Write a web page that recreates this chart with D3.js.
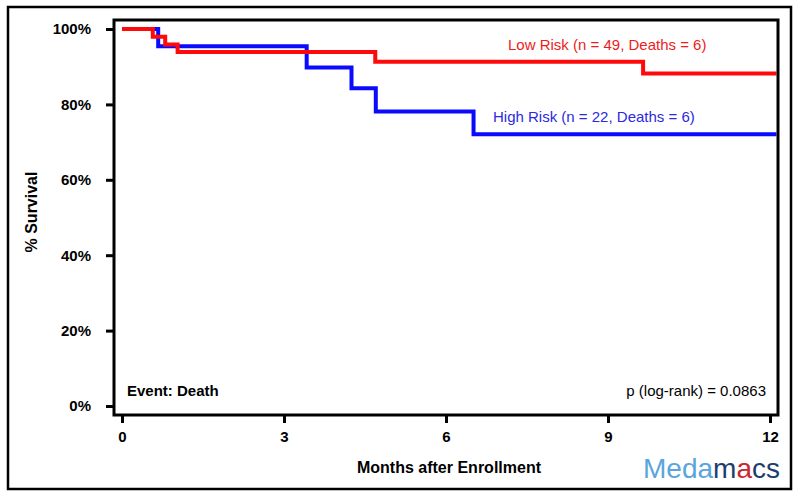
<!DOCTYPE html>
<html>
<head>
<meta charset="utf-8">
<script src="https://cdn.jsdelivr.net/npm/d3@7"></script>
<style>
  html, body { margin: 0; padding: 0; background: #fff; }
  svg { display: block; font-family: Arial, "Liberation Sans", sans-serif; }
</style>
</head>
<body>
<svg id="chart" width="800" height="498"></svg>
<script>
// ---- data ----
const lowTimes  = [0, 0.57, 0.80, 1.03, 4.69, 9.65, 12.12];
const lowSurv   = [100, 97.96, 95.92, 93.88, 91.3, 88.2, 88.2];
const highTimes = [0, 0.67, 3.42, 4.25, 4.70, 6.51, 12.12];
const highSurv  = [100, 95.45, 89.8, 84.3, 78.1, 72.1, 72.1];
const xTicks = [0, 3, 6, 9, 12];
const yTicks = [0, 20, 40, 60, 80, 100];
const seriesLabels = ["Low Risk (n = 49, Deaths = 6)", "High Risk (n = 22, Deaths = 6)"];
const eventLabel = "Event: Death";
const pLabel = "p (log-rank) = 0.0863";
const xTitle = "Months after Enrollment";
const yTitle = "% Survival";
const logoParts = ["Meda", "m", "a", "cs"];

const svg = d3.select("#chart");
const frame = {left: 114, right: 778, top: 20, bottom: 415};

const x = d3.scaleLinear().domain([0, 12]).range([122, 770]);
const y = d3.scaleLinear().domain([0, 100]).range([406, 29]);

// outer border
svg.append("rect").attr("x", 8).attr("y", 7).attr("width", 783).attr("height", 482)
  .attr("fill", "none").attr("stroke", "#000").attr("stroke-width", 2.5);

// clip for curves
svg.append("clipPath").attr("id", "clip").append("rect")
  .attr("x", frame.left).attr("y", frame.top)
  .attr("width", frame.right - frame.left).attr("height", frame.bottom - frame.top);

// curves
const line = d3.line().curve(d3.curveStepAfter).x(d => x(d[0])).y(d => y(d[1]));
const g = svg.append("g").attr("clip-path", "url(#clip)");
g.append("path").datum(highTimes.map((t, i) => [t, highSurv[i]]))
  .attr("d", line).attr("fill", "none").attr("stroke", "#0a0aff").attr("stroke-width", 4);
g.append("path").datum(lowTimes.map((t, i) => [t, lowSurv[i]]))
  .attr("d", line).attr("fill", "none").attr("stroke", "#ff0a0a").attr("stroke-width", 4);

// frame
svg.append("rect").attr("x", frame.left).attr("y", frame.top)
  .attr("width", frame.right - frame.left).attr("height", frame.bottom - frame.top)
  .attr("fill", "none").attr("stroke", "#000").attr("stroke-width", 3);

// axes
const yAxis = svg.append("g").attr("transform", `translate(${frame.left},0)`)
  .call(d3.axisLeft(y).tickValues(yTicks).tickFormat(d => d + "%").tickSize(8).tickPadding(15));
const xAxis = svg.append("g").attr("transform", `translate(0,${frame.bottom})`)
  .call(d3.axisBottom(x).tickValues(xTicks).tickSize(8).tickPadding(8));
[yAxis, xAxis].forEach(a => {
  a.select(".domain").remove();
  a.selectAll(".tick line").attr("stroke", "#000").attr("stroke-width", 3);
  a.selectAll(".tick text").attr("fill", "#000").style("font-size", "15px")
    .style("font-weight", "bold").style("font-family", "Arial, 'Liberation Sans', sans-serif");
});

// series labels
svg.append("text").attr("x", 508).attr("y", 50).attr("fill", "#ee1c1c")
  .style("font-size", "15px").text(seriesLabels[0]);
svg.append("text").attr("x", 493).attr("y", 122).attr("fill", "#2a2ae0")
  .style("font-size", "15px").text(seriesLabels[1]);

// annotations
svg.append("text").attr("x", 127).attr("y", 396).style("font-size", "15px")
  .style("font-weight", "bold").text(eventLabel);
svg.append("text").attr("x", 766).attr("y", 396).attr("text-anchor", "end")
  .style("font-size", "15px").text(pLabel);

// axis titles
svg.append("text").attr("x", 449).attr("y", 473).attr("text-anchor", "middle")
  .style("font-size", "16px").style("font-weight", "bold").text(xTitle);
svg.append("text").attr("transform", "translate(37,212) rotate(-90)").attr("text-anchor", "middle")
  .style("font-size", "16px").style("font-weight", "bold").text(yTitle);

// logo
const logoColors = ["#5aa5dc", "#1c3e6e", "#c8282e", "#1c3e6e"];
const logo = svg.append("text").attr("x", 643).attr("y", 478).style("font-size", "28px");
logoParts.forEach((p, i) => logo.append("tspan").attr("fill", logoColors[i]).text(p));
</script>
</body>
</html>
